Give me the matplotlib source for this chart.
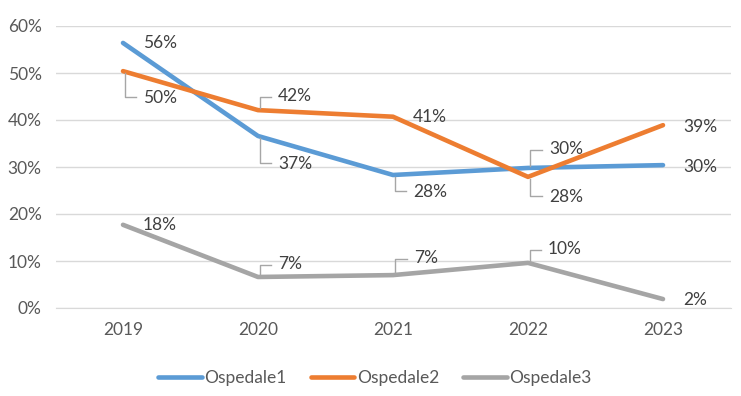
import matplotlib.pyplot as plt
from matplotlib.transforms import ScaledTranslation
from matplotlib.ticker import PercentFormatter

plt.rcParams['font.family'] = ['Lato', 'DejaVu Sans']

years = ['2019', '2020', '2021', '2022', '2023']
ospedale1 = [0.564, 0.366, 0.283, 0.298, 0.304]
ospedale2 = [0.504, 0.421, 0.407, 0.279, 0.389]
ospedale3 = [0.177, 0.066, 0.070, 0.096, 0.019]

series = [('Ospedale1', ospedale1, '#5B9BD5'),
          ('Ospedale2', ospedale2, '#ED7D31'),
          ('Ospedale3', ospedale3, '#A5A5A5')]

# label offsets in pixels (dx right, dy down) from the point, and leader-line flag
label_pos = {
    'Ospedale1': [(20, 0, False), (20, 28, True), (20, 17, True), (21, -19, True), (20, 2, False)],
    'Ospedale2': [(20, 27, True), (20, -14, True), (20, 0, False), (21, 20, True), (20, 2, False)],
    'Ospedale3': [(20, 0, False), (20, -13, True), (21, -17, True), (20, -14, True), (20, 1, False)],
}

text_col = '#404040'
tick_col = '#595959'
grid_col = '#D9D9D9'
lead_col = '#A6A6A6'
fs = 12.5

fig = plt.figure(figsize=(7.41, 3.96), dpi=100)
ax = fig.add_axes([55.5 / 741, 88 / 396, 675 / 741, 282 / 396])

x = range(len(years))
for name, vals, col in series:
    ax.plot(x, vals, color=col, lw=3.3, solid_capstyle='round', label=name, zorder=3)

ax.set_xlim(-0.5, len(years) - 0.5)
ax.set_ylim(0, 0.6)
ax.set_yticks([i / 10 for i in range(7)])
ax.yaxis.set_major_formatter(PercentFormatter(1.0, decimals=0))
ax.set_xticks(list(x))
ax.set_xticklabels(years)
ax.grid(axis='y', color=grid_col, lw=1)
ax.set_axisbelow(True)
for s in ['top', 'right', 'left']:
    ax.spines[s].set_visible(False)
ax.spines['bottom'].set_color(grid_col)
ax.tick_params(length=0, labelsize=fs, colors=tick_col)
ax.tick_params(axis='y', pad=10)
ax.tick_params(axis='x', pad=10)

fig.canvas.draw()
for name, vals, col in series:
    for i, v in enumerate(vals):
        dx, dy, lead = label_pos[name][i]
        tr = fig.dpi_scale_trans + ScaledTranslation(i, v, ax.transData)
        ax.text(dx / 100, -dy / 100, f'{round(v * 100):.0f}%', transform=tr,
                ha='left', va='center', fontsize=fs, color=text_col, zorder=5)
        if lead:
            sgn = 1 if dy > 0 else -1
            lx = [2 / 100, 2 / 100, (dx - 7) / 100]
            ly = [-sgn * 2 / 100, -(dy - sgn * 1) / 100, -(dy - sgn * 1) / 100]
            ax.plot(lx, ly, transform=tr, color=lead_col, lw=1, zorder=4, clip_on=False)

fig.legend(loc='center', bbox_to_anchor=(375 / 741, 1 - 378 / 396), ncol=3,
           frameon=False, fontsize=fs, handlelength=2.5, handletextpad=0.15,
           columnspacing=1.4, labelcolor=tick_col)

fig.savefig('out.png', dpi=100)
